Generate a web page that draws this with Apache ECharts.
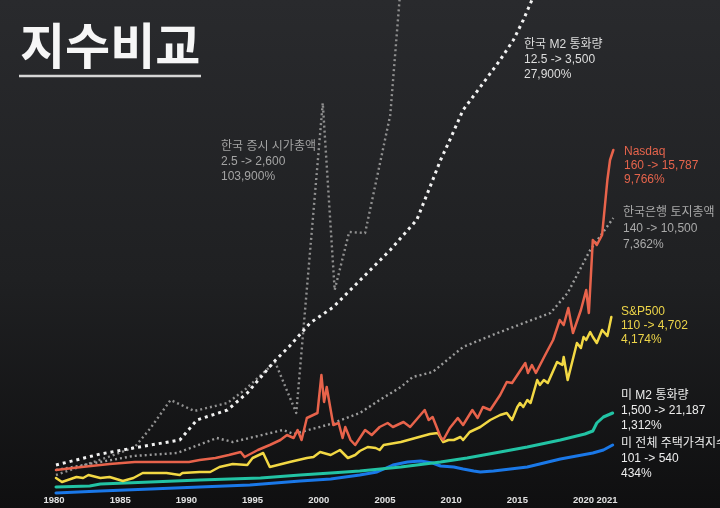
<!DOCTYPE html>
<html>
<head>
<meta charset="utf-8">
<script src="https://cdn.jsdelivr.net/npm/echarts@6/dist/echarts.min.js"></script>
<style>
  html, body { margin: 0; padding: 0; }
  body { background: linear-gradient(#292a2d 0%, #1f2022 55%, #0f0f10 100%); }
  #chart { width: 720px; height: 508px; }
</style>
</head>
<body>
<div id="chart"></div>
<script>
// x tick values (2021 label sits at the end of the data) and their labels
const tickValues = [1980, 1985, 1990, 1995, 2000, 2005, 2010, 2015, 2020, 2021.77];
const tickLabels = ["1980", "1985", "1990", "1995", "2000", "2005", "2010", "2015", "2020", "2021"];

// every series is rebased to its own scale on the slide; values here are in chart height units (0-99)
const krStockYears = [1980.15, 1982.1, 1984.1, 1985.1, 1986.1, 1987.3, 1988.8, 1990.6, 1993.1, 1994.4, 1996.7, 1998.3, 2000.3, 2001.2, 2002.3, 2003.5, 2005.4, 2006.1, 2006.5];
const krStockValues = [4, 5.8, 7.6, 8.6, 9.6, 13.4, 19, 16.8, 18.4, 21, 26.6, 16.4, 78.4, 41, 52.6, 52.4, 76, 99, 111];

const krM2Years = [1980.15, 1983.5, 1986.0, 1989.5, 1990.8, 1993.1, 1994.6, 1996.6, 1997.8, 1999.35, 2001.1, 2005.4, 2007.4, 2008.4, 2009.2, 2009.9, 2010.9, 2012.2, 2013.7, 2014.7, 2015.45, 2016.1, 2017.1];
const krM2Values = [6, 8.2, 9.4, 11, 15, 17, 20.4, 26.6, 29.8, 34.4, 37.6, 49, 55, 61.6, 67, 71, 77, 81.6, 87, 91, 95, 99, 105];

const krLandYears = [1980.15, 1983.5, 1986.0, 1989.3, 1992.3, 1993.5, 1997.3, 1998.1, 2000.9, 2003.1, 2004.6, 2006.2, 2007.1, 2008.6, 2010.9, 2013.5, 2017.5, 2018.8, 2020.5, 2022.25];
const krLandValues = [5, 6.6, 7.8, 8.4, 11.4, 10.6, 13, 12.2, 14.2, 16.4, 19, 21.6, 23.6, 24.6, 29.6, 32.4, 36.4, 40.4, 49, 55.4];

const nasdaqYears = [1980.15, 1982.1, 1984.2, 1986.1, 1988.2, 1990.2, 1991.0, 1992.2, 1993.2, 1994.1, 1994.4, 1995.4, 1996.3, 1997.1, 1997.6, 1998.1, 1998.4, 1998.7, 1999.1, 1999.9, 2000.2, 2000.4, 2000.6, 2000.9, 2001.1, 2001.5, 2001.8, 2002.0, 2002.4, 2002.75, 2003.1, 2003.5, 2004.0, 2004.6, 2005.2, 2005.6, 2006.4, 2006.9, 2008.0, 2008.3, 2008.6, 2009.2, 2009.4, 2009.9, 2010.5, 2010.9, 2011.6, 2012.0, 2012.4, 2012.95, 2013.7, 2014.2, 2014.6, 2015.6, 2015.8, 2016.1, 2016.4, 2017.1, 2017.7, 2018.2, 2018.5, 2018.85, 2019.2, 2019.8, 2020.2, 2020.4, 2020.7, 2021.0, 2021.4, 2021.8, 2022.0, 2022.25];
const nasdaqValues = [5, 5.6, 6.2, 6.6, 6.6, 6.6, 7, 7.4, 8, 8.6, 7.6, 9, 10, 11, 12, 11.4, 13, 11, 15.4, 16.4, 24, 18.6, 21.6, 17, 14, 14.4, 11.4, 13.6, 11, 10, 11.4, 13, 12, 13.6, 14.4, 13.6, 14.6, 13.6, 17, 15, 15.6, 11.6, 11, 13.4, 15.4, 14, 17, 15.4, 17.6, 17, 20, 22.6, 22.4, 26.4, 24.4, 26, 24.4, 28, 31, 35, 34, 37.4, 32.4, 37, 41, 36.4, 51, 50, 52, 63, 67, 69];

const spYears = [1980.15, 1980.6, 1981.7, 1982.2, 1982.6, 1983.5, 1984.2, 1985.2, 1986.0, 1986.7, 1988.5, 1989.5, 1989.7, 1991.0, 1991.8, 1992.5, 1993.5, 1994.6, 1995.0, 1995.8, 1996.3, 1997.8, 1999.1, 1999.6, 2000.1, 2000.9, 2001.6, 2002.2, 2002.75, 2003.1, 2003.7, 2004.3, 2004.6, 2004.9, 2006.2, 2007.3, 2008.4, 2009.0, 2009.4, 2009.8, 2010.2, 2010.7, 2010.9, 2011.4, 2012.2, 2012.95, 2013.7, 2014.2, 2014.6, 2015.0, 2015.2, 2015.45, 2015.75, 2016.0, 2016.5, 2016.7, 2017.0, 2017.3, 2018.0, 2018.4, 2018.5, 2018.8, 2019.5, 2019.8, 2020.0, 2020.2, 2020.5, 2020.7, 2021.0, 2021.4, 2021.8, 2022.1];
const spValues = [3.4, 2.6, 3.6, 3.4, 4, 3.4, 3.6, 2.8, 3.4, 4.4, 4.4, 4, 4.4, 4.6, 4.6, 5.6, 6.2, 6, 7.4, 8.4, 5.6, 6.6, 7.4, 7.6, 8.6, 8, 9, 7.4, 8, 8.8, 9.6, 9.4, 9, 10, 10.6, 11.4, 12.2, 12.4, 10.6, 11, 11, 11.6, 11, 12.6, 13.6, 15, 16, 16.4, 15, 17.6, 18.4, 17.6, 19, 18.4, 23, 22, 23, 22.4, 26.6, 26, 27.6, 23, 30.4, 29.4, 31.6, 31, 32.6, 31.6, 30.4, 33, 31.8, 35.6];

const usM2Years = [1980.15, 1982.7, 1983.5, 1987.3, 1991.0, 1995.6, 1998.6, 2000.9, 2003.1, 2006.2, 2009.2, 2011.2, 2013.7, 2015.75, 2018.25, 2020.1, 2020.7, 2021.0, 2021.5, 2022.2];
const usM2Values = [1.6, 1.8, 2.2, 2.6, 3, 3.4, 4, 4.4, 4.8, 5.6, 6.6, 7.4, 8.6, 9.6, 11, 12.2, 12.8, 14.4, 15.6, 16.4];

const usHouseYears = [1980.15, 1983.5, 1987.3, 1991.0, 1994.8, 1998.6, 2000.9, 2003.1, 2004.4, 2005.6, 2006.7, 2007.7, 2008.6, 2009.2, 2010.2, 2010.9, 2011.7, 2012.2, 2013.2, 2015.75, 2018.25, 2020.7, 2021.5, 2022.2];
const usHouseValues = [0.4, 0.8, 1.2, 1.6, 2, 2.8, 3.2, 4, 4.6, 6, 6.6, 6.8, 6.4, 5.8, 5.6, 5.2, 4.8, 4.6, 4.8, 5.6, 7.2, 8.4, 9, 10];

// annotation texts
const noteTitles = ["한국 증시 시가총액", "한국 M2 통화량", "Nasdaq", "한국은행 토지총액", "S&P500", "미 M2 통화량", "미 전체 주택가격지수"];
const noteRanges = ["2.5 -> 2,600", "12.5 -> 3,500", "160 -> 15,787", "140 -> 10,500", "110 -> 4,702", "1,500 -> 21,187", "101 -> 540"];
const notePcts = ["103,900%", "27,900%", "9,766%", "7,362%", "4,174%", "1,312%", "434%"];

const zip = (xs, ys) => xs.map((x, i) => [x, ys[i]]);
const FONT = "'Liberation Sans', 'Noto Sans CJK KR', sans-serif";

function lineSeries(name, xs, ys, color, width, dash, z) {
  return {
    name, type: "line", data: zip(xs, ys), showSymbol: false, clip: false, z,
    lineStyle: { color, width, type: dash || "solid", join: "round", cap: dash ? "butt" : "round" },
    emphasis: { disabled: true }
  };
}

// position + colour of each note block: [left, top, lineHeight, colour]
const noteStyles = [
  [221, 139, 15, "#a4a4a4"],
  [524, 37, 15, "#dedede"],
  [624, 145, 14, "#e5644c"],
  [623, 205, 16, "#a9a9a9"],
  [621, 305, 14, "#ecd449"],
  [621, 388, 15, "#ededed"],
  [621, 436, 15, "#ededed"]
];

const notes = noteTitles.map((t, i) => ({
  type: "text", left: noteStyles[i][0], top: noteStyles[i][1], silent: true,
  style: {
    text: [t, noteRanges[i], notePcts[i]].join("\n"),
    fill: noteStyles[i][3], font: "12px " + FONT, lineHeight: noteStyles[i][2]
  }
}));

const chart = echarts.init(document.getElementById("chart"), null, { renderer: "canvas" });
chart.setOption({
  backgroundColor: "transparent",
  animation: false,
  grid: { left: 54, right: 106, top: 0, bottom: 13 },
  xAxis: {
    type: "value", min: 1980, max: 2022.3,
    axisLine: { show: false }, axisTick: { show: false }, splitLine: { show: false },
    axisLabel: {
      customValues: tickValues, margin: 1, color: "#e2e2e2", fontSize: 9.5, fontWeight: "bold",
      fontFamily: FONT,
      formatter: v => tickLabels[tickValues.indexOf(v)] ?? ""
    }
  },
  yAxis: {
    type: "value", min: 0, max: 99, show: false, splitLine: { show: false }
  },
  series: [
    lineSeries("한국 증시 시가총액", krStockYears, krStockValues, "#909090", 2.4, [2, 3], 1),
    lineSeries("한국은행 토지총액", krLandYears, krLandValues, "#9c9c9c", 2.4, [2, 3], 2),
    lineSeries("한국 M2 통화량", krM2Years, krM2Values, "#f2f2f2", 3, [3, 4], 3),
    lineSeries("미 전체 주택가격지수", usHouseYears, usHouseValues, "#1a78e8", 3, null, 4),
    lineSeries("미 M2 통화량", usM2Years, usM2Values, "#22c3a4", 3, null, 5),
    lineSeries("S&P500", spYears, spValues, "#f2d844", 2.5, null, 6),
    lineSeries("Nasdaq", nasdaqYears, nasdaqValues, "#e8634b", 2.5, null, 7)
  ],
  graphic: [
    {
      type: "text", left: 20, top: 21, silent: true,
      style: { text: "지수비교", fill: "#f6f6f6", font: "bold 49px 'Noto Sans CJK KR', sans-serif" }
    },
    {
      type: "line", silent: true,
      shape: { x1: 19, y1: 76, x2: 201, y2: 76 },
      style: { stroke: "#d6d6d6", lineWidth: 2.5 }
    },
    ...notes
  ]
});
</script>
</body>
</html>
